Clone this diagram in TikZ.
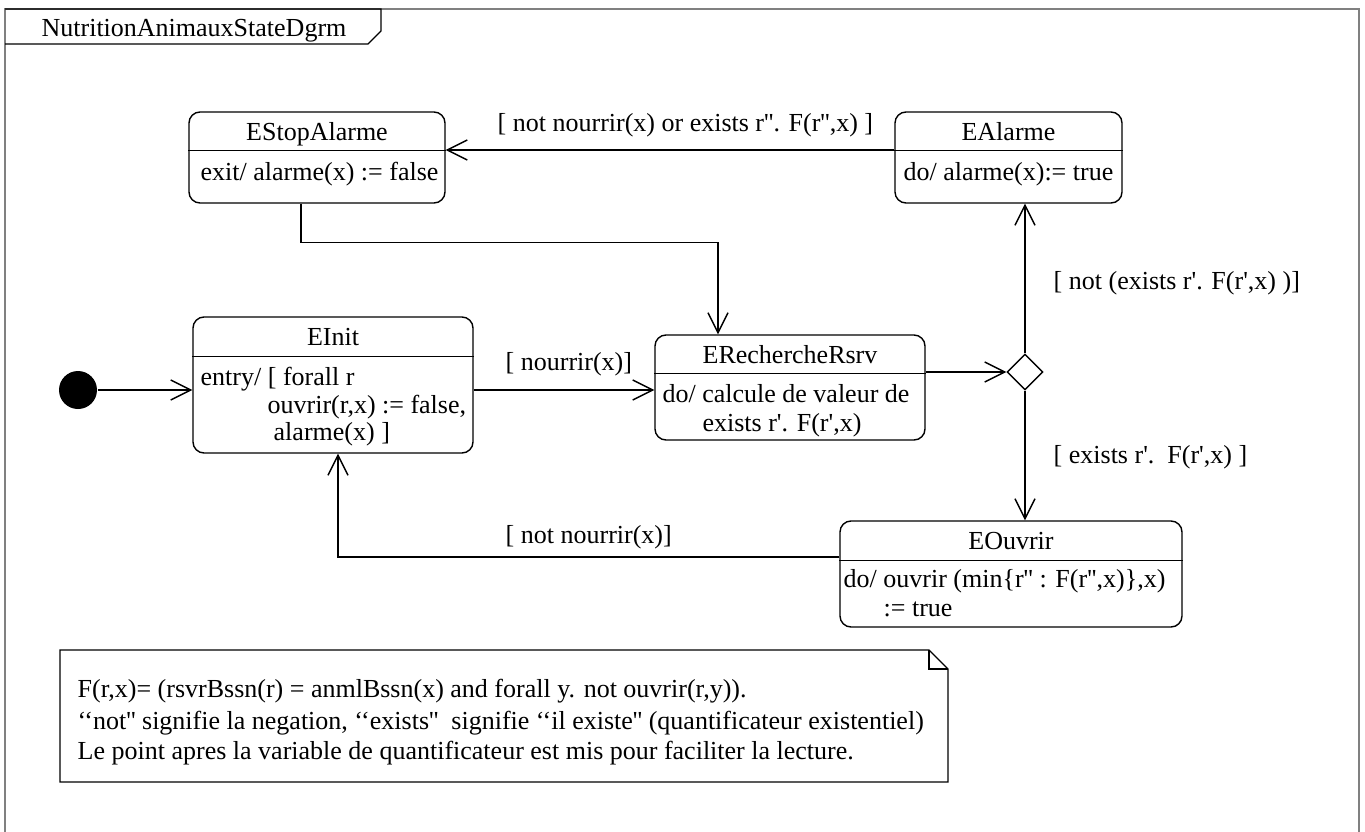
\documentclass[tikz,border=0pt]{standalone}
\usepackage{fontspec}
\setmainfont{Liberation Serif}[Ligatures=TeXOff]
\usetikzlibrary{positioning}
\usetikzlibrary{shapes.geometric}
\usetikzlibrary{arrows.meta}

\begin{document}
\begin{tikzpicture}[x=1pt, y=-1pt, line width=1.4pt,
  font=\fontsize{26}{26}\selectfont,
  state/.style={draw, rounded corners=11pt, inner sep=0pt},
  txt/.style={inner sep=0pt},
  trans/.style={-{Straight Barb[length=20pt, width=20pt]}}]
  \useasboundingbox (0,0) rectangle (1365,832);

  \draw[line width=1.5pt, gray] (5,832) -- (5,9) -- (1359,9) -- (1359,832);
  \draw (5,9) -- (381,9) -- (381,31) -- (368,44) -- (5,44);
  \node[txt, anchor=base] (dgrm) at (194,37) {NutritionAnimauxStateDgrm};

  \node[state, minimum width=256pt, minimum height=91pt] (stop) at (317,157.5) {};
  \node[state, minimum width=227pt, minimum height=91pt] (alarme) at (1008.5,157.5) {};
  \node[state, minimum width=280pt, minimum height=136pt] (init) at (333,385) {};
  \node[state, minimum width=270pt, minimum height=105pt] (rech) at (790,387.5) {};
  \node[state, minimum width=342pt, minimum height=106pt] (ouvrir) at (1011,574) {};

  \foreach \s/\d in {stop/39, alarme/39, init/40, rech/39, ouvrir/40}
    \draw ([yshift=-\d pt]\s.north west) -- ([yshift=-\d pt]\s.north east);

  \node[txt, anchor=base] (stop-t) at ([yshift=-29.5pt]stop.north) {EStopAlarme};
  \node[txt, anchor=base] (alarme-t) at ([yshift=-29.5pt]alarme.north) {EAlarme};
  \node[txt, anchor=base] (init-t) at ([yshift=-29.5pt]init.north) {EInit};
  \node[txt, anchor=base] (rech-t) at ([yshift=-29.5pt]rech.north) {ERechercheRsrv};
  \node[txt, anchor=base] (ouvrir-t) at ([yshift=-29.5pt]ouvrir.north) {EOuvrir};

  \node[txt, anchor=base west] (stop-b) at (200,180) {exit/ alarme(x) := false};
  \node[txt, anchor=base west] (alarme-b) at (903,180) {do/ alarme(x):= true};
  \node[txt, anchor=base west] (init-b1) at (200,385) {entry/ [ forall r};
  \node[txt, anchor=base west] (init-b2) at (267,413) {ouvrir(r,x) := false,};
  \node[txt, anchor=base west] (init-b3) at (273,440) {alarme(x) ]};
  \node[txt, anchor=base] (rech-b1) at (786,402) {do/ calcule de valeur de};
  \node[txt, anchor=base] (rech-b2) at (782,431) {exists r'. F(r',x)};
  \node[txt, anchor=base west] (ouvrir-b1) at (843,587) {do/ ouvrir (min\{r'' : F(r'',x)\},x)};
  \node[txt, anchor=base west] (ouvrir-b2) at (883,616) {:= true};

  \node[circle, fill, minimum size=38pt, inner sep=0pt] (start) at (78,390) {};
  \node[diamond, draw, minimum size=36pt, inner sep=0pt] (dec) at (1025,372) {};

  \draw[trans] (start.east) -- (start -| init.west);
  \draw[trans] ([yshift=-5pt]init.east) -- ([yshift=-5pt]init.east -| rech.west);
  \draw[trans] (rech.east |- dec) -- (dec.west);
  \draw[trans] (dec.north) -- (dec.north |- alarme.south);
  \draw[trans] (dec.south) -- (dec.south |- ouvrir.north);
  \draw[trans] ([yshift=7.5pt]alarme.west) -- ([yshift=7.5pt]alarme.west -| stop.east);
  \draw[trans] ([xshift=-16pt]stop.south) -- ++(0,39) -| ([xshift=-72pt]rech.north);
  \draw[trans] ([yshift=17pt]ouvrir.west) -| ([xshift=5pt]init.south);

  \node[txt, anchor=west] (l-stop) at (497,125) {[ not nourrir(x) or exists r''. F(r'',x) ]};
  \node[txt, anchor=west] (l-rech) at (505,364) {[ nourrir(x)]};
  \node[txt, anchor=west] (l-init) at (505,537) {[ not nourrir(x)]};
  \node[txt, anchor=west] (l-alarme) at (1053,283) {[ not (exists r'. F(r',x) )]};
  \node[txt, anchor=west] (l-ouvrir) at (1053,457) {[ exists r'.\ \ F(r',x) ]};

  \draw (60,650) -- (929,650) -- (948,669) -- (948,782) -- (60,782) -- cycle;
  \draw (929,650) |- (948,669);
  \node[txt, anchor=base west] (note1) at (77,697) {F(r,x)= (rsvrBssn(r) = anmlBssn(x) and forall y. not ouvrir(r,y)).};
  \node[txt, anchor=base west] (note2) at (77,729) {‘‘not'' signifie la negation, ‘‘exists''\ \ signifie ‘‘il existe'' (quantificateur existentiel)};
  \node[txt, anchor=base west] (note3) at (77,759) {Le point apres la variable de quantificateur est mis pour faciliter la lecture.};
\end{tikzpicture}
\end{document}
